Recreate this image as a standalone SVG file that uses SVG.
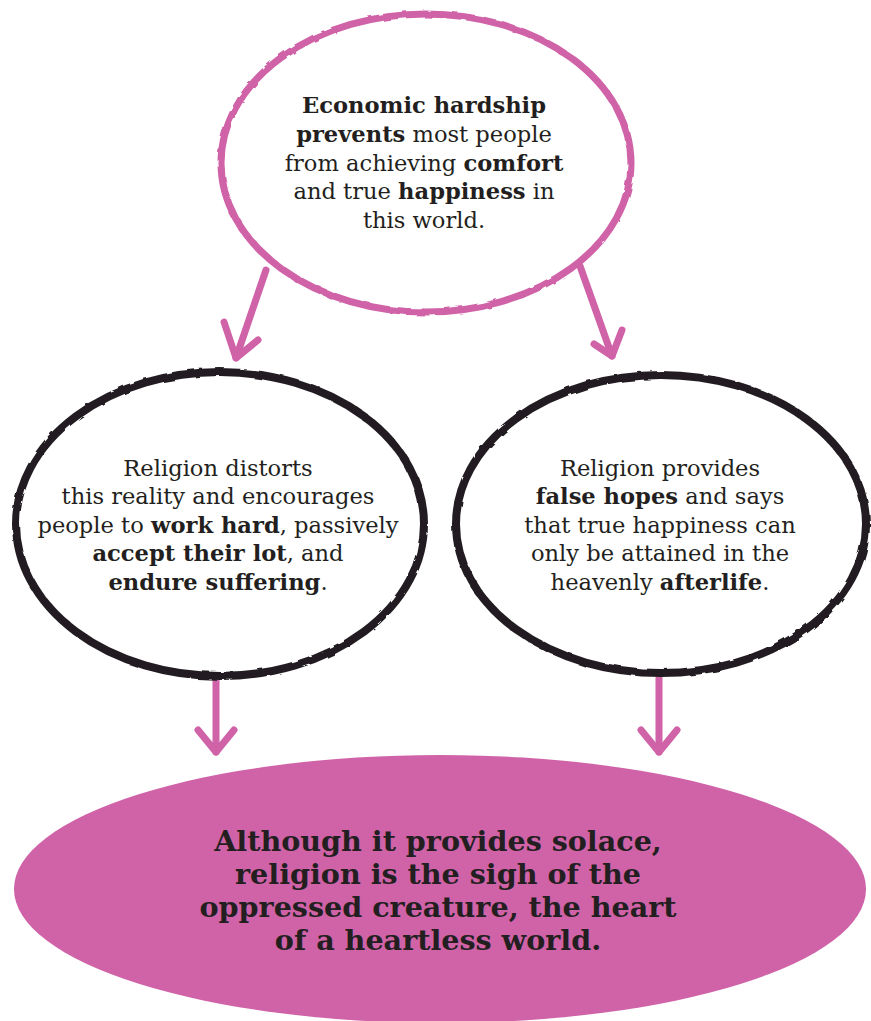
<svg xmlns="http://www.w3.org/2000/svg" width="871" height="1021" viewBox="0 0 871 1021">
<style>
.t{font-family:"DejaVu Serif","Liberation Serif",serif;font-size:22.6px;fill:#231f20;text-anchor:middle}
.b{font-weight:bold}
.big{font-family:"DejaVu Serif","Liberation Serif",serif;font-size:28.6px;font-weight:bold;fill:#231f20;text-anchor:middle}
.pk{stroke:#d062a8;fill:none;stroke-linecap:round;stroke-linejoin:round}
</style>
<defs>
<filter id="rough" x="-5%" y="-5%" width="110%" height="110%">
<feTurbulence type="fractalNoise" baseFrequency="0.08" numOctaves="2" seed="3"/>
<feDisplacementMap in="SourceGraphic" scale="3"/>
</filter>
</defs>
<rect width="871" height="1021" fill="#fff"/>
<g id="connectors" class="pk">
<path d="M266 270 L236 358" stroke-width="7"/>
<path d="M224 322 L236 358 L258 340" stroke-width="7"/>
<path d="M580 266 L612 356" stroke-width="7"/>
<path d="M594 344 L612 356 L622 330" stroke-width="7"/>
<path d="M216 680 L216 752" stroke-width="7"/>
<path d="M198 730 L216 752 L234 730" stroke-width="7"/>
<path d="M659 678 L659 752" stroke-width="7"/>
<path d="M641 730 L659 752 L677 730" stroke-width="7"/>
</g>
<g id="top">
<ellipse cx="426" cy="163" rx="205" ry="149" fill="#fff" stroke="#d062a8" stroke-width="7" filter="url(#rough)"/>
<text class="t" x="424" y="113"><tspan class="b">Economic hardship</tspan></text>
<text class="t" x="424" y="142"><tspan class="b">prevents</tspan> most people</text>
<text class="t" x="424" y="171">from achieving <tspan class="b">comfort</tspan></text>
<text class="t" x="424" y="199">and true <tspan class="b">happiness</tspan> in</text>
<text class="t" x="424" y="228">this world.</text>
</g>
<g id="left">
<ellipse cx="220" cy="524" rx="204" ry="152" fill="#fff" stroke="#231f20" stroke-width="8" filter="url(#rough)"/>
<text class="t" x="218" y="476">Religion distorts</text>
<text class="t" x="218" y="504">this reality and encourages</text>
<text class="t" x="218" y="533">people to <tspan class="b">work hard</tspan>, passively</text>
<text class="t" x="218" y="561"><tspan class="b">accept their lot</tspan>, and</text>
<text class="t" x="218" y="590"><tspan class="b">endure suffering</tspan>.</text>
</g>
<g id="right">
<ellipse cx="661" cy="524" rx="205" ry="149" fill="#fff" stroke="#231f20" stroke-width="8" filter="url(#rough)"/>
<text class="t" x="660" y="476">Religion provides</text>
<text class="t" x="660" y="504"><tspan class="b">false hopes</tspan> and says</text>
<text class="t" x="660" y="533">that true happiness can</text>
<text class="t" x="660" y="561">only be attained in the</text>
<text class="t" x="660" y="590">heavenly <tspan class="b">afterlife</tspan>.</text>
</g>
<g id="bottom">
<ellipse cx="440" cy="889" rx="426" ry="134" fill="#d062a8"/>
<text class="big" x="438" y="851">Although it provides solace,</text>
<text class="big" x="438" y="884">religion is the sigh of the</text>
<text class="big" x="438" y="917">oppressed creature, the heart</text>
<text class="big" x="438" y="950">of a heartless world.</text>
</g>
</svg>
